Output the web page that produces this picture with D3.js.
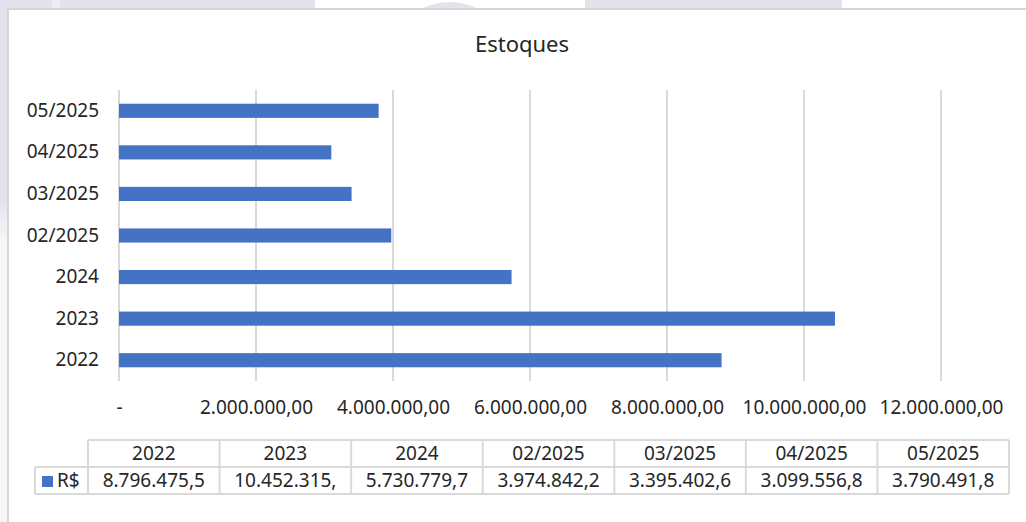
<!DOCTYPE html>
<html><head><meta charset="utf-8">
<script src="https://cdn.jsdelivr.net/npm/d3@7"></script>
<style>
html,body{margin:0;padding:0;background:#fff;}
svg{display:block;font-family:"Noto Sans",sans-serif;}
</style></head>
<body>
<svg id="c" width="1026" height="522"></svg>
<script>
const categories = ["2022","2023","2024","02/2025","03/2025","04/2025","05/2025"];
const values = [8796475.5, 10452315.0, 5730779.7, 3974842.2, 3395402.6, 3099556.8, 3790491.8];
const xTicks = [0, 2000000, 4000000, 6000000, 8000000, 10000000, 12000000];
const seriesName = "R$";
const title = "Estoques";

const svg = d3.select("#c");
const W = 1026, H = 522;
const blue = "#4472c4", grid = "#d9d9d9", txt = "#262626", lav = "#e3e3ed";

// backdrop outside chart frame (watermark pieces)
svg.append("rect").attr("x",0).attr("y",0).attr("width",W).attr("height",H).attr("fill","#fff");
[[0,315],[585,257]].forEach(([x,w])=>{
  svg.append("rect").attr("x",x).attr("y",0).attr("width",w).attr("height",10).attr("fill",lav);
});
svg.append("rect").attr("x",52).attr("y",0).attr("width",8).attr("height",10).attr("fill","#ededf3");
svg.append("ellipse").attr("cx",450).attr("cy",40).attr("rx",50).attr("ry",38).attr("fill",lav);
const lg = svg.append("defs").append("linearGradient").attr("id","lg").attr("x1",0).attr("y1",0).attr("x2",0).attr("y2",1);
lg.append("stop").attr("offset","0%").attr("stop-color",lav);
lg.append("stop").attr("offset","85%").attr("stop-color",lav);
lg.append("stop").attr("offset","100%").attr("stop-color","#f4f4f6");
svg.append("rect").attr("x",0).attr("y",0).attr("width",9).attr("height",235).attr("fill","url(#lg)");
svg.append("rect").attr("x",0).attr("y",235).attr("width",9).attr("height",H-235).attr("fill","#f6f6f6");
// chart frame
svg.append("rect").attr("x",8).attr("y",9).attr("width",W).attr("height",H)
  .attr("fill","#fff").attr("stroke","#d6d6d6").attr("stroke-width",2);

// title
svg.append("text").attr("x",522).attr("y",52).attr("text-anchor","middle")
  .attr("font-size",22).attr("fill",txt).text(title);

const loc = d3.formatLocale({decimal:",", thousands:".", grouping:[3], currency:["R$",""]});
const fmt2 = loc.format(",.2f");
const fmt1 = loc.format(",.1f");

const x = d3.scaleLinear().domain([0,12000000]).range([119,941]);
const order = categories.slice().reverse();
const y = d3.scaleBand().domain(order).range([90,381]).paddingInner(0.66).paddingOuter(0.33);

// gridlines
svg.append("g").selectAll("line").data(xTicks).join("line")
  .attr("x1",d=>x(d)).attr("x2",d=>x(d)).attr("y1",90).attr("y2",381)
  .attr("stroke",grid).attr("stroke-width",2);

// x axis labels
const xa = svg.append("g").attr("transform","translate(0,380)")
  .call(d3.axisBottom(x).tickValues(xTicks).tickSize(0).tickPadding(21)
    .tickFormat(d=> d===0 ? "-" : fmt2(d)));
xa.select(".domain").remove();
xa.selectAll("text").attr("font-size",19).attr("fill",txt).attr("font-family","Noto Sans");

// y axis labels
const ya = svg.append("g").attr("transform","translate(119,0)")
  .call(d3.axisLeft(y).tickSize(0).tickPadding(20));
ya.select(".domain").remove();
ya.selectAll("text").attr("font-size",19).attr("fill",txt).attr("font-family","Noto Sans");

// bars
svg.append("g").selectAll("rect").data(categories.map((c,i)=>({c,v:values[i]}))).join("rect")
  .attr("x",x(0)).attr("y",d=>y(d.c)).attr("width",d=>x(d.v)-x(0)).attr("height",y.bandwidth())
  .attr("fill",blue);

// data table
const tx0 = 88, tx1 = 1009, cw = (tx1-tx0)/categories.length;
const r0 = 440, r1 = 467, r2 = 494, lx = 35;
const tb = svg.append("g");
const colX = d3.range(categories.length+1).map(i=>tx0+i*cw);
tb.append("line").attr("x1",tx0).attr("x2",tx1).attr("y1",r0).attr("y2",r0);
tb.append("line").attr("x1",lx).attr("x2",tx1).attr("y1",r1).attr("y2",r1);
tb.append("line").attr("x1",lx).attr("x2",tx1).attr("y1",r2).attr("y2",r2);
tb.selectAll("line.v").data(colX).join("line").attr("class","v")
  .attr("x1",d=>d).attr("x2",d=>d).attr("y1",r0).attr("y2",r2);
tb.append("line").attr("x1",lx).attr("x2",lx).attr("y1",r1).attr("y2",r2);
tb.selectAll("line").attr("stroke",grid).attr("stroke-width",2);

tb.selectAll("text.h").data(categories).join("text").attr("class","h")
  .attr("x",(d,i)=>tx0+cw*(i+0.5)).attr("y",r1-7).attr("text-anchor","middle")
  .attr("font-size",19).attr("fill",txt).text(d=>d);
tb.selectAll("text.v").data(values).join("text").attr("class","v")
  .attr("x",(d,i)=>tx0+cw*(i+0.5)).attr("y",r2-7).attr("text-anchor","middle")
  .attr("font-size",19).attr("fill",txt).text(d=>fmt1(d).slice(0,11));

tb.append("rect").attr("x",42).attr("y",476).attr("width",11).attr("height",11).attr("fill",blue);
tb.append("text").attr("x",57).attr("y",r2-7).attr("font-size",19).attr("fill",txt).text(seriesName);
</script>
</body></html>
